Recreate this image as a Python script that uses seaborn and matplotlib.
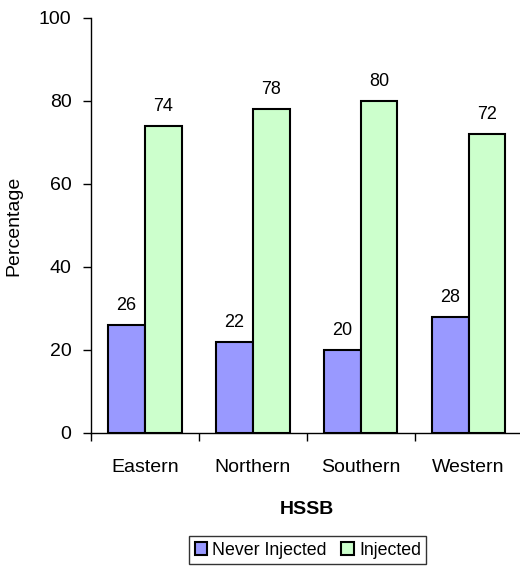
import matplotlib
matplotlib.use('Agg')
import matplotlib.pyplot as plt
import seaborn as sns
import pandas as pd
import numpy as np

# data
regions = ['Eastern', 'Northern', 'Southern', 'Western']
never_injected = [26, 22, 20, 28]
injected = [74, 78, 80, 72]
series = ['Never Injected', 'Injected']
colors = ['#9999FF', '#CCFFCC']

df = pd.DataFrame({
    'HSSB': regions * 2,
    'group': [series[0]] * 4 + [series[1]] * 4,
    'value': never_injected + injected,
})

sns.set_style('ticks')
plt.rcParams['font.family'] = ['Liberation Sans', 'DejaVu Sans']
plt.rcParams['text.color'] = 'black'
plt.rcParams['axes.labelcolor'] = 'black'
plt.rcParams['xtick.color'] = 'black'
plt.rcParams['ytick.color'] = 'black'

fig = plt.figure(figsize=(5.2, 5.75), dpi=100)
ax = fig.add_axes([0.175, 0.247, 0.83, 0.722])

sns.barplot(data=df, x='HSSB', y='value', hue='group', palette=colors,
            saturation=1, width=0.68, edgecolor='black', linewidth=1.5,
            ax=ax, legend=False)

for cont in ax.containers:
    ax.bar_label(cont, fmt='%g', padding=8, fontsize=13)

ax.set_ylim(0, 100)
ax.set_xlim(-0.5, 3.47)
ax.set_yticks(range(0, 101, 20))
ax.tick_params(axis='y', labelsize=14, length=6, width=1, direction='out', pad=8)
ax.tick_params(axis='x', which='major', length=0, labelsize=14, pad=19)
ax.set_xticks(np.arange(-0.5, 3.6, 1), minor=True)
ax.tick_params(axis='x', which='minor', length=6, width=1, direction='out')

ax.set_ylabel('Percentage', fontsize=14, labelpad=12)
ax.set_xlabel('HSSB', fontsize=14, fontweight='bold', labelpad=18)

for s in ['top', 'right']:
    ax.spines[s].set_visible(False)
for s in ['left', 'bottom']:
    ax.spines[s].set_linewidth(1)
    ax.spines[s].set_color('black')

handles = [plt.Rectangle((0, 0), 1, 1, facecolor=c, edgecolor='black', linewidth=1.5)
           for c in colors]
fig.legend(handles, series, loc='center', bbox_to_anchor=(0.592, 0.043), ncol=2,
           frameon=True, fancybox=False, edgecolor='black', fontsize=12.8,
           handlelength=0.7, handleheight=0.7, handletextpad=0.3, columnspacing=0.8,
           borderpad=0.3, borderaxespad=0)

fig.savefig('out.png', dpi=100)
